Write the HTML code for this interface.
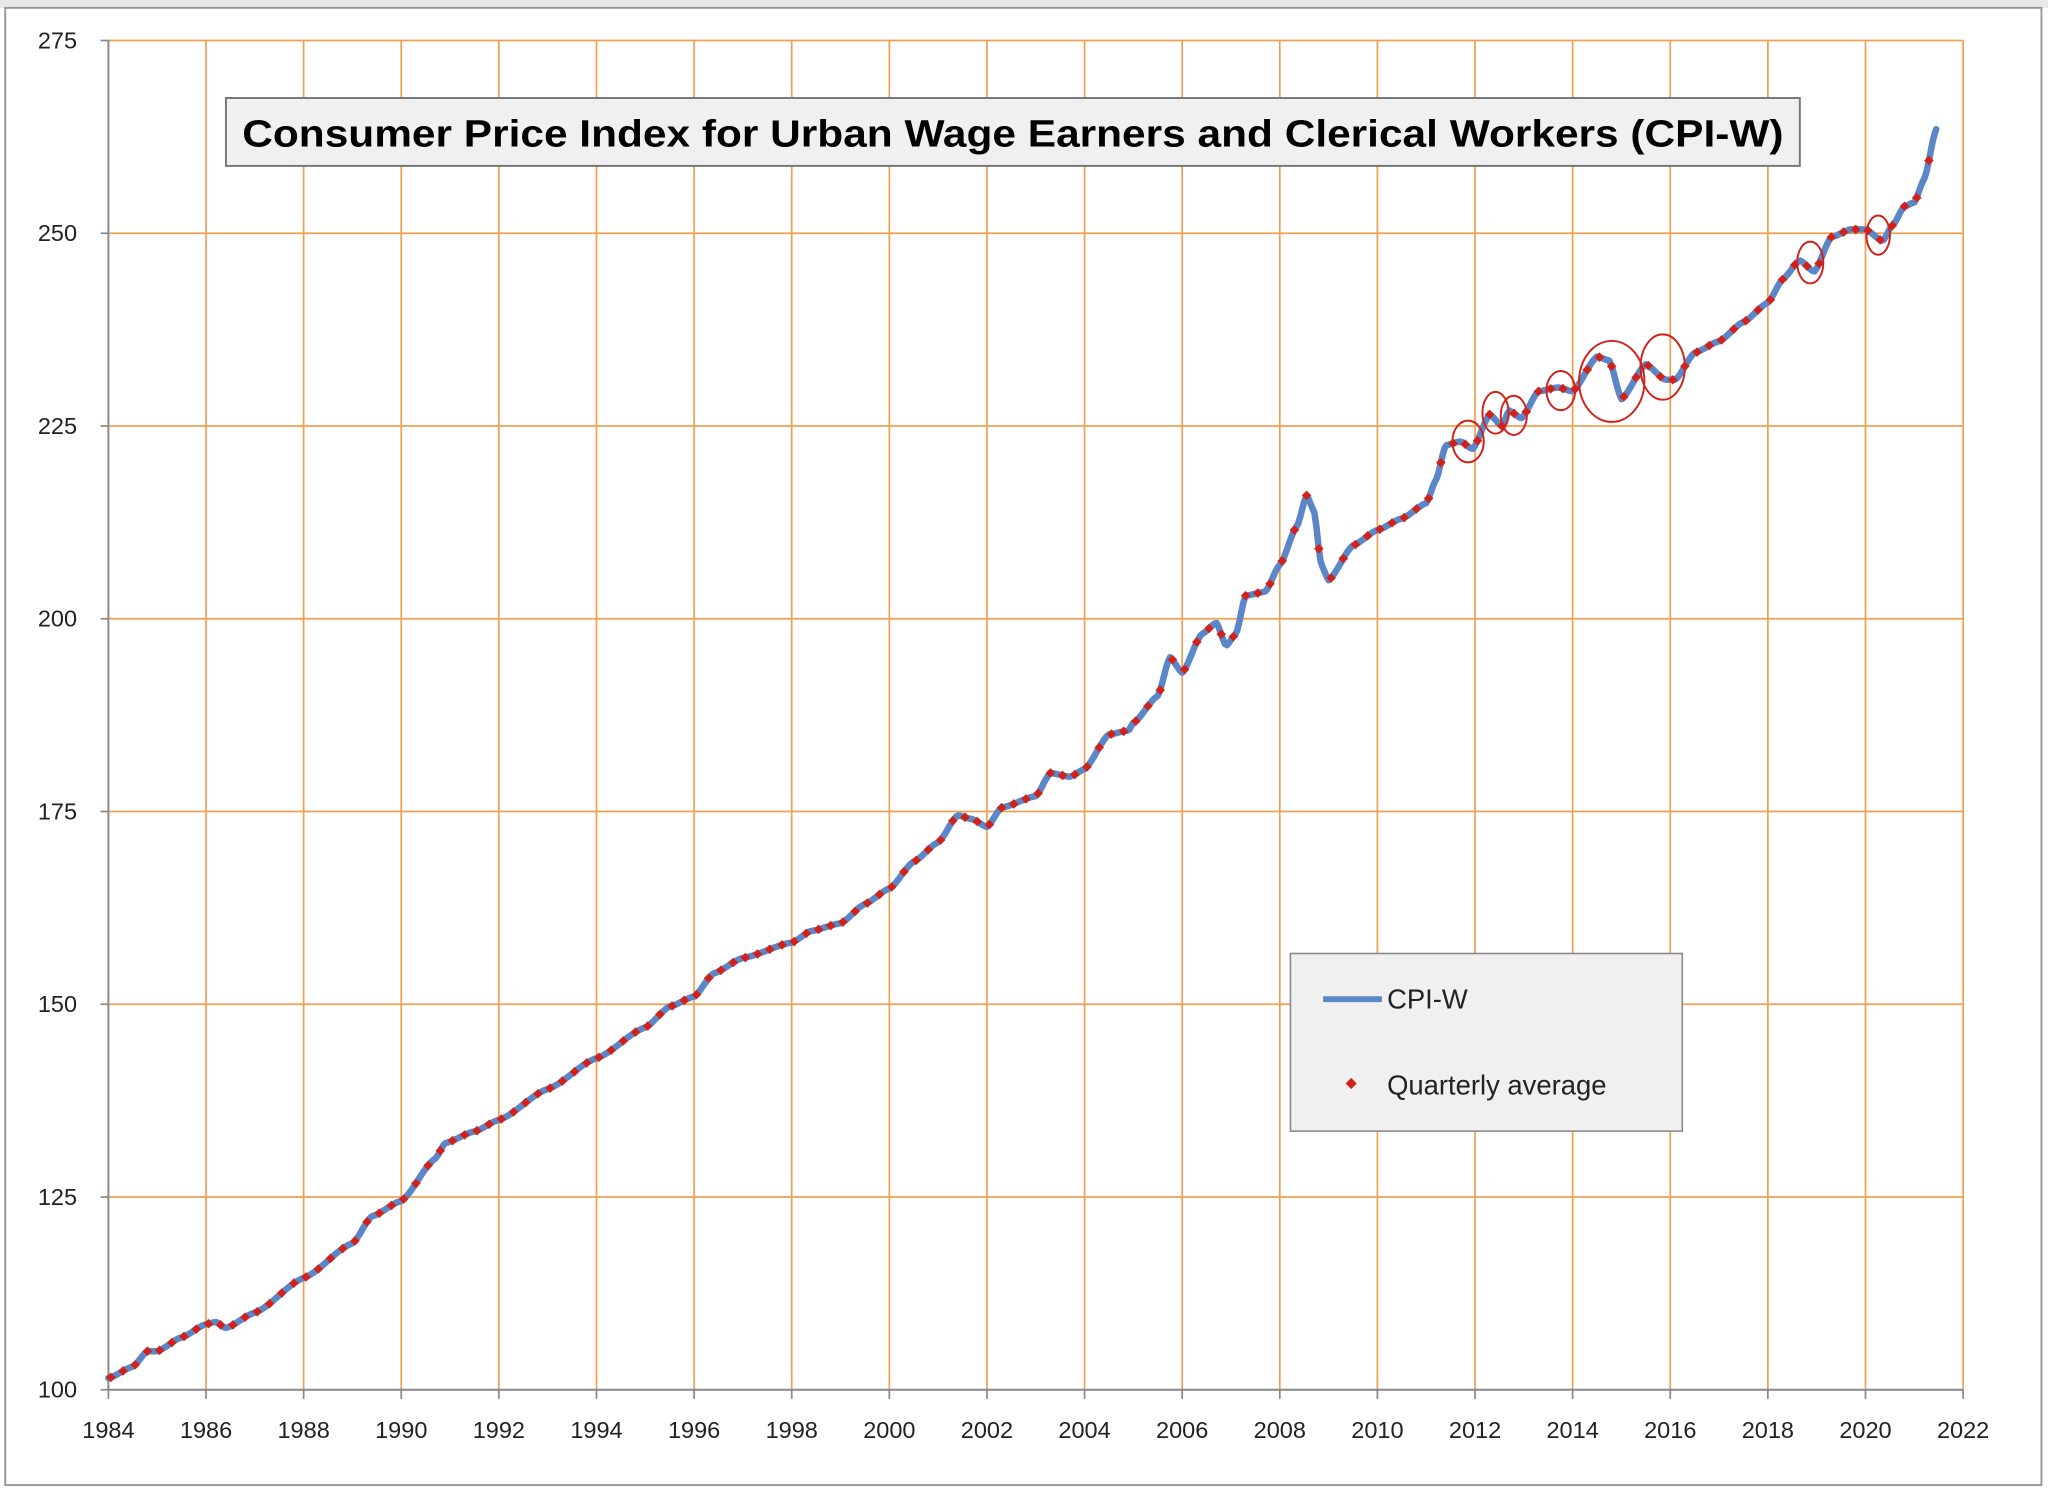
<!DOCTYPE html>
<html><head><meta charset="utf-8"><style>html,body{margin:0;padding:0;background:#fff;}svg{display:block}</style></head>
<body>
<svg id="s" width="2048" height="1500" viewBox="0 0 1568 1148.4" xmlns="http://www.w3.org/2000/svg" font-family="Liberation Sans, sans-serif">
<rect x="0" y="0" width="1568" height="1148.4" fill="#fff"/>
<rect x="0" y="0" width="1568" height="6" fill="#e8e8e8"/>
<rect x="4" y="6" width="1559" height="1131" fill="#fff" stroke="#999" stroke-width="1.5"/>
<g id="grid"></g>
<g id="series"></g>
<rect x="173" y="75" width="1205" height="52" fill="#f0f0f0" stroke="#777" stroke-width="1.5"/>
<text x="775.5" y="112" text-anchor="middle" font-size="29" font-weight="bold" fill="#000" textLength="1180" lengthAdjust="spacingAndGlyphs">Consumer Price Index for Urban Wage Earners and Clerical Workers (CPI-W)</text>
<rect x="988" y="730" width="300" height="136" fill="#f0f0f0" stroke="#888" stroke-width="1.2"/>
<line x1="1013" y1="765" x2="1058" y2="765" stroke="#5b87c8" stroke-width="4.5"/>
<text x="1062" y="772" font-size="21" fill="#222">CPI-W</text>
<rect x="1031.5" y="826.5" width="6" height="6" fill="#d0221a" transform="rotate(45 1034.5 829.5)"/>
<text x="1062" y="838" font-size="21" fill="#222">Quarterly average</text>
</svg>
<script>
const L=83,R=1503,T=31,B=1064,ns="http://www.w3.org/2000/svg";
const X=y=>L+(y-1984)/38*(R-L), Y=v=>B-(v-100)/175*(B-T);
const g=document.getElementById('grid'),s=document.getElementById('series');
function el(p,tag,a,txt){const e=document.createElementNS(ns,tag);for(const k in a)e.setAttribute(k,a[k]);if(txt)e.textContent=txt;p.appendChild(e);return e;}
for(let v=100;v<=275;v+=25){const y=Y(v);if(v>100)el(g,'line',{x1:L,x2:R,y1:y,y2:y,stroke:'#f0a050','stroke-width':1.3});
el(g,'line',{x1:L-6,x2:L,y1:y,y2:y,stroke:'#888','stroke-width':1.3});
el(g,'text',{x:L-24,y:y+6,'text-anchor':'end','font-size':18,fill:'#222'},v);}
for(let yr=1984;yr<=2022;yr+=2){const x=X(yr);if(yr>1984)el(g,'line',{x1:x,x2:x,y1:T,y2:B,stroke:'#f0a050','stroke-width':1.3});
el(g,'line',{x1:x,x2:x,y1:B,y2:B+7,stroke:'#888','stroke-width':1.3});
el(g,'text',{x:x,y:B+37,'text-anchor':'middle','font-size':18,fill:'#222'},yr);}
el(g,'line',{x1:L,x2:L,y1:T,y2:B,stroke:'#888','stroke-width':1.5});
el(g,'line',{x1:L,x2:R,y1:B,y2:B,stroke:'#888','stroke-width':1.5});
const k=[[1984,101.5],[1984.5,103],[1984.8,105],[1985,105],[1985.5,106.8],[1986,108.5],[1986.2,108.8],[1986.4,108],[1987,110],[1988,114.5],[1989,119],[1989.4,122.5],[1990,124.5],[1990.7,130],[1990.9,132],[1991.5,133.5],[1992,135],[1993,139],[1994,143],[1995,147],[1995.5,149.7],[1996,151],[1996.4,154],[1997,156],[1998,158],[1998.4,159.5],[1999,160.5],[1999.5,163],[2000,165],[2000.5,168.5],[2001,171],[2001.4,174.5],[2001.7,174],[2002,173],[2002.3,175.5],[2003,177],[2003.3,180],[2003.7,179.5],[2004,180.5],[2004.5,185],[2004.9,185.5],[2005,186.5],[2005.5,190],[2005.75,195],[2006,193],[2006.4,198],[2006.7,199.5],[2006.9,196.5],[2007.1,198],[2007.3,203],[2007.7,203.5],[2008,207],[2008.35,212],[2008.55,216],[2008.7,214],[2008.85,207],[2009,205],[2009.5,209.5],[2010,211.5],[2010.5,213],[2011,215],[2011.2,218],[2011.4,222.5],[2011.7,223],[2011.95,222],[2012.3,226.5],[2012.55,225],[2012.7,227],[2012.95,226],[2013.3,229.5],[2013.7,230],[2014,229.5],[2014.5,234],[2014.75,233.5],[2015,228.5],[2015.5,233],[2015.9,231],[2016.1,231],[2016.5,234.5],[2017,236],[2017.5,238.5],[2018,241],[2018.3,244],[2018.65,246.5],[2018.95,245],[2019.3,249.5],[2019.7,250.5],[2020,250.5],[2020.35,249],[2020.55,251],[2020.8,253.5],[2021,254],[2021.2,257],[2021.45,263.5]];
function val(t){for(let i=0;i<k.length-1;i++){if(t<=k[i+1][0]){const a=k[i],b=k[i+1],f=(t-a[0])/(b[0]-a[0]);const sm=f*f*(3-2*f);return a[1]+(b[1]-a[1])*(0.5*f+0.5*sm);}}return k[k.length-1][1];}
let d='';for(let t=1984;t<=2021.45;t+=1/24){d+=(d?'L':'M')+X(t).toFixed(1)+','+Y(val(t)).toFixed(1);}
d+='L'+X(2021.45).toFixed(1)+','+Y(263.5).toFixed(1);
el(s,'path',{d:d,fill:'none',stroke:'#5b87c8','stroke-width':5,'stroke-linejoin':'round','stroke-linecap':'round'});
for(let t=1984.05;t<=2021.3;t+=0.25){const x=X(t),y=Y(val(t));el(s,'rect',{x:x-2.6,y:y-2.6,width:5.2,height:5.2,fill:'#d0221a',transform:`rotate(45 ${x} ${y})`});}
[[1124,338,12,16],[1145,316,10,16],[1159,318,10,15],[1195,299,11,15],[1234,292,25,31],[1273,281,17,25],[1386,201,10,16],[1438,180,9,15]].forEach(c=>el(s,'ellipse',{cx:c[0],cy:c[1],rx:c[2],ry:c[3],fill:'none',stroke:'#d0221a','stroke-width':1.5}));
</script>
</body></html>
